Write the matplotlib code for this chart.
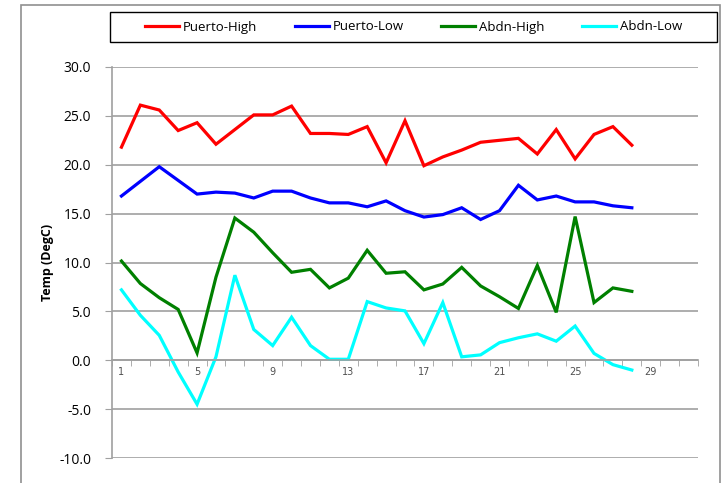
import matplotlib
matplotlib.use("Agg")
import matplotlib.pyplot as plt
from matplotlib.patches import Rectangle

days = list(range(1, 29))

puerto_high = [21.8, 26.1, 25.6, 23.5, 24.3, 22.1, 23.6, 25.1, 25.1, 26.0,
               23.2, 23.2, 23.1, 23.9, 20.2, 24.5, 19.9, 20.8, 21.5, 22.3,
               22.5, 22.7, 21.1, 23.6, 20.6, 23.1, 23.9, 22.0]
puerto_low = [16.8, 18.3, 19.8, 18.4, 17.0, 17.2, 17.1, 16.6, 17.3, 17.3,
              16.6, 16.1, 16.1, 15.7, 16.3, 15.3, 14.65, 14.9, 15.6, 14.4,
              15.3, 17.9, 16.4, 16.8, 16.2, 16.2, 15.8, 15.6]
abdn_high = [10.15, 7.85, 6.4, 5.2, 0.75, 8.5, 14.55, 13.1, 11.0, 9.0,
             9.3, 7.4, 8.4, 11.25, 8.9, 9.05, 7.2, 7.8, 9.5, 7.6,
             6.5, 5.3, 9.7, 4.9, 14.7, 5.9, 7.4, 7.05]
abdn_low = [7.2, 4.6, 2.55, -1.2, -4.5, 0.35, 8.7, 3.15, 1.5, 4.4,
            1.5, 0.1, 0.1, 6.0, 5.35, 5.05, 1.7, 5.9, 0.35, 0.55,
            1.8, 2.3, 2.7, 1.95, 3.5, 0.7, -0.45, -1.0]

series = [
    ("Puerto-High", puerto_high, "#ff0000"),
    ("Puerto-Low", puerto_low, "#0000ff"),
    ("Abdn-High", abdn_high, "#008000"),
    ("Abdn-Low", abdn_low, "#00ffff"),
]

y_ticks = [-10, -5, 0, 5, 10, 15, 20, 25, 30]
x_labels = [1, 5, 9, 13, 17, 21, 25, 29]

W, H = 724, 483
fig = plt.figure(figsize=(W / 100, H / 100), dpi=100)
ax = fig.add_axes([112 / W, 1 - 458 / H, (698 - 112) / W, (458 - 67) / H])

grid_c = "#a0a0a0"
for name, vals, col in series:
    ax.plot(days, vals, color=col, lw=2.3, label=name, solid_joinstyle="miter")

ax.set_xlim(0.5, 31.5)
ax.set_ylim(-10, 30)
ax.set_yticks(y_ticks)
ax.set_yticklabels([f"{v:.1f}" for v in y_ticks], fontsize=10, family="Open Sans")
ax.yaxis.grid(True, color=grid_c, lw=1.2)
ax.set_axisbelow(True)

ax.set_xticks(x_labels)
ax.set_xticklabels([str(v) for v in x_labels])
ax.set_xticks([i + 0.5 for i in range(0, 32)], minor=True)
ax.tick_params(axis="x", which="major", length=0, pad=5,
               labelsize=7, labelcolor="#505050")
ax.tick_params(axis="x", which="minor", length=4, color=grid_c, direction="out")
ax.tick_params(axis="y", length=5, color=grid_c, pad=10)
for lab in ax.get_xticklabels():
    lab.set_family("DejaVu Sans")

ax.spines["top"].set_visible(False)
ax.spines["right"].set_visible(False)
ax.spines["left"].set_color(grid_c)
ax.spines["bottom"].set_color(grid_c)
ax.spines["bottom"].set_position(("data", 0))
ax.spines["left"].set_linewidth(1.2)
ax.spines["bottom"].set_linewidth(1.2)

fig.text(48 / W, 1 - 262 / H, "Temp (DegC)", rotation=90, fontsize=9,
         fontweight="bold", ha="center", va="center", family="Open Sans")

# legend box drawn separately, entries centred inside
fig.patches.append(Rectangle((110 / W, 1 - 42 / H), 607 / W, 30 / H,
                             transform=fig.transFigure, fill=False,
                             edgecolor="black", lw=1.0))
fig.legend(loc="center", ncol=4, bbox_to_anchor=(413.5 / W, 1 - 27 / H),
           prop={"family": "Open Sans", "size": 9.5}, frameon=False,
           handlelength=2.6, handletextpad=0.3, columnspacing=2.8,
           borderaxespad=0, borderpad=0)

fig.patches.append(Rectangle((21 / W, -0.01), (720 - 21) / W, 1 - 5 / H + 0.01,
                             transform=fig.transFigure, fill=False,
                             edgecolor="#909090", lw=1.2))

fig.savefig("out.png", dpi=100)
